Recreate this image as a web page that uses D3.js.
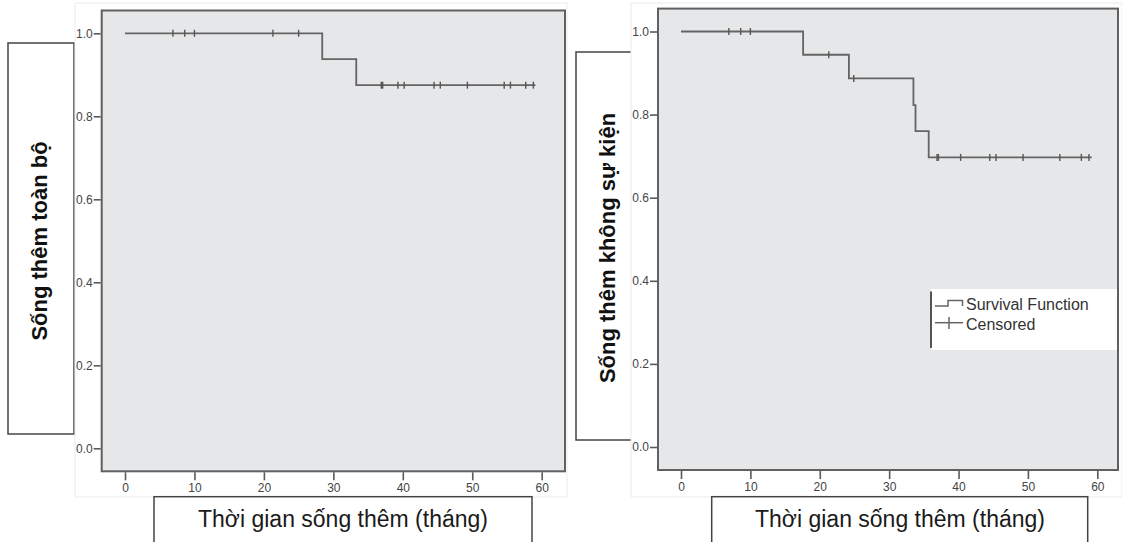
<!DOCTYPE html>
<html>
<head>
<meta charset="utf-8">
<script src="https://cdn.jsdelivr.net/npm/d3@7"></script>
<style>
  html, body { margin: 0; padding: 0; background: #fff; }
  svg { display: block; font-family: "Liberation Sans", Arial, sans-serif; }
  .axis text { fill: #444; font-size: 12px; }
  .axis line { stroke: #5a5a5a; stroke-width: 1.6; }
</style>
</head>
<body>
<svg id="chart" width="1122" height="542"></svg>
<script>
// ticks shared by both plots
var xTicks = [0, 10, 20, 30, 40, 50, 60];
var yTicks = [0, 0.2, 0.4, 0.6, 0.8, 1.0];

// overall survival (left plot)
var osDropTimes = [28.4, 33.3];
var osDropSurv = [0.938, 0.875];
var osCensored = [6.9, 8.6, 10.0, 21.3, 25.0, 36.9, 37.1, 39.3, 40.2, 44.5, 45.4, 49.3, 54.6, 55.5, 57.7, 58.8];
var osEndTime = 59.1;

// event free survival (right plot)
var efsDropTimes = [17.6, 24.2, 33.5, 33.8, 35.7];
var efsDropSurv = [0.944, 0.887, 0.823, 0.760, 0.697];
var efsCensored = [6.9, 8.6, 10.0, 21.3, 24.9, 36.9, 37.1, 40.3, 44.5, 45.4, 49.3, 54.6, 57.7, 58.8];
var efsEndTime = 59.2;

var xTitle = "Thời gian sống thêm (tháng)";
var legendLabels = ["Survival Function", "Censored"];

var svg = d3.select("#chart");
svg.append("rect").attr("width", 1122).attr("height", 542).attr("fill", "#fff");

// layout of the two panels (pixels)
var panels = [
    {
        title: "Sống thêm toàn bộ",
        drops: osDropTimes, surv: osDropSurv, censored: osCensored, end: osEndTime,
        panel: {x: 75, y: 3, w: 492, h: 494},
        frame: {x0: 101.7, x1: 565, y0: 10.5, y1: 471.3},
        xRange: [125, 541.7], yRange: [448.3, 33.3],
        yBox: {x: 8, y: 43, w: 66, h: 391}, yText: {x: 47, y: 241},
        xBox: {x: 154, y: 496.7, w: 378, h: 60}, xText: {x: 343, y: 527},
        legend: false
    },
    {
        title: "Sống thêm không sự kiện",
        drops: efsDropTimes, surv: efsDropSurv, censored: efsCensored, end: efsEndTime,
        panel: {x: 631, y: 3, w: 491, h: 494},
        frame: {x0: 658, x1: 1118, y0: 8.6, y1: 470},
        xRange: [681, 1097.3], yRange: [447, 31.5],
        yBox: {x: 576, y: 52, w: 70, h: 388}, yText: {x: 615, y: 248},
        xBox: {x: 711.7, y: 496.7, w: 376, h: 60}, xText: {x: 900, y: 527},
        legend: true
    }
];

// y-label boxes sit behind the panels
panels.forEach(function(p) {
    svg.append("rect")
       .attr("x", p.yBox.x).attr("y", p.yBox.y)
       .attr("width", p.yBox.w).attr("height", p.yBox.h)
       .attr("fill", "#fff").attr("stroke", "#444").attr("stroke-width", 1.5);
    svg.append("text")
       .attr("transform", "translate(" + p.yText.x + "," + p.yText.y + ") rotate(-90)")
       .attr("text-anchor", "middle")
       .attr("font-size", 22).attr("font-weight", "bold").attr("fill", "#111")
       .text(p.title);
});

function survAt(p, t) {
    var s = 1;
    for (var i = 0; i < p.drops.length; i++) {
        if (p.drops[i] <= t) s = p.surv[i];
    }
    return s;
}

panels.forEach(function(p) {
    var g = svg.append("g");
    g.append("rect")
     .attr("x", p.panel.x).attr("y", p.panel.y)
     .attr("width", p.panel.w).attr("height", p.panel.h)
     .attr("fill", "#fff").attr("stroke", "#ececec");

    var x = d3.scaleLinear().domain([0, 60]).range(p.xRange);
    var y = d3.scaleLinear().domain([0, 1]).range(p.yRange);

    var f = p.frame;
    g.append("rect")
     .attr("x", f.x0).attr("y", f.y0)
     .attr("width", f.x1 - f.x0).attr("height", f.y1 - f.y0)
     .attr("fill", "#e6e7e9").attr("stroke", "#606060").attr("stroke-width", 2);

    // axes
    var yAxis = d3.axisLeft(y).tickValues(yTicks).tickFormat(d3.format(".1f"))
                  .tickSize(7).tickPadding(1);
    var yG = g.append("g").attr("class", "axis")
              .attr("transform", "translate(" + (f.x0 - 1) + ",0)")
              .call(yAxis);
    yG.select(".domain").remove();

    var xAxis = d3.axisBottom(x).tickValues(xTicks).tickSize(8).tickPadding(3);
    var xG = g.append("g").attr("class", "axis")
              .attr("transform", "translate(0," + (f.y1 + 1) + ")")
              .call(xAxis);
    xG.select(".domain").remove();
    xG.selectAll("text").attr("font-size", 11.5);

    // survival step curve
    var pts = [[0, 1]];
    p.drops.forEach(function(t, i) { pts.push([t, p.surv[i]]); });
    pts.push([p.end, p.surv[p.surv.length - 1]]);
    var line = d3.line()
                 .x(function(d) { return x(d[0]); })
                 .y(function(d) { return y(d[1]); })
                 .curve(d3.curveStepAfter);
    g.append("path")
     .attr("d", line(pts))
     .attr("fill", "none").attr("stroke", "#646464").attr("stroke-width", 1.8);

    // censored marks
    g.selectAll(".cens")
     .data(p.censored)
     .enter().append("line")
     .attr("class", "cens")
     .attr("x1", function(d) { return x(d); })
     .attr("x2", function(d) { return x(d); })
     .attr("y1", function(d) { return y(survAt(p, d)) - 3.5; })
     .attr("y2", function(d) { return y(survAt(p, d)) + 3.5; })
     .attr("stroke", "#555").attr("stroke-width", 1.4);

    // x title box
    svg.append("rect")
       .attr("x", p.xBox.x).attr("y", p.xBox.y)
       .attr("width", p.xBox.w).attr("height", p.xBox.h)
       .attr("fill", "#fff").attr("stroke", "#444").attr("stroke-width", 1.5);
    svg.append("text")
       .attr("x", p.xText.x).attr("y", p.xText.y)
       .attr("text-anchor", "middle")
       .attr("font-size", 23).attr("fill", "#1a1a1a")
       .text(xTitle);

    if (p.legend) {
        var lg = g.append("g").attr("transform", "translate(931,289)");
        lg.append("rect").attr("width", 186).attr("height", 61).attr("fill", "#fff");
        lg.append("line").attr("x1", 0).attr("x2", 0).attr("y1", 2.5).attr("y2", 59)
          .attr("stroke", "#555").attr("stroke-width", 2);
        lg.append("path").attr("d", "M4,17H17V11.5H31.5V17")
          .attr("fill", "none").attr("stroke", "#666").attr("stroke-width", 1.5);
        lg.append("line").attr("x1", 4).attr("x2", 32).attr("y1", 33.7).attr("y2", 33.7)
          .attr("stroke", "#666").attr("stroke-width", 1.5);
        lg.append("line").attr("x1", 18).attr("x2", 18).attr("y1", 28).attr("y2", 40)
          .attr("stroke", "#666").attr("stroke-width", 1.5);
        lg.selectAll(".lt")
          .data(legendLabels)
          .enter().append("text")
          .attr("class", "lt")
          .attr("x", 35)
          .attr("y", function(d, i) { return 21 + i * 19.5; })
          .attr("font-size", 16).attr("fill", "#333")
          .text(function(d) { return d; });
    }
});
</script>
</body>
</html>
